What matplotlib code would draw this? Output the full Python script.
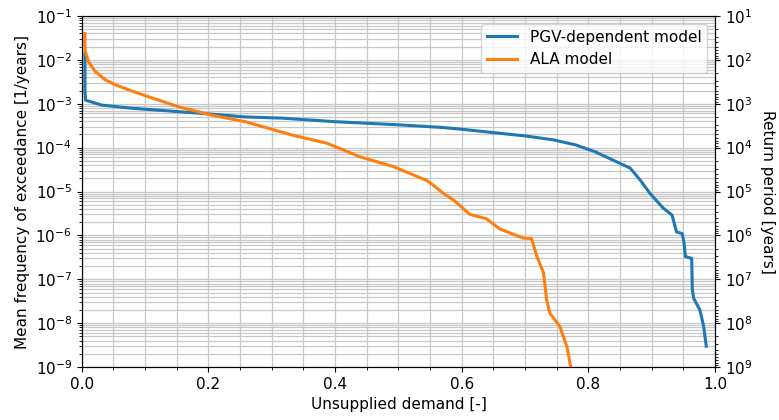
import numpy as np
import matplotlib
matplotlib.use("Agg")
import matplotlib.pyplot as plt
from matplotlib.ticker import LogLocator, MultipleLocator, NullFormatter


# PGV-dependent model
pgv_demand = [0.005, 0.005, 0.006, 0.032, 0.079, 0.153, 0.205, 0.258, 0.316,
              0.40, 0.502, 0.566, 0.597, 0.65, 0.70, 0.745, 0.78, 0.81, 0.835,
              0.866, 0.882, 0.897, 0.918, 0.932, 0.939, 0.948, 0.951, 0.953,
              0.963, 0.964, 0.966, 0.976, 0.982, 0.986]
pgv_freq = [1.4e-2, 2.0e-3, 1.2e-3, 9.3e-4, 7.9e-4, 6.6e-4, 5.8e-4, 5.0e-4,
            4.7e-4, 3.9e-4, 3.3e-4, 2.9e-4, 2.65e-4, 2.2e-4, 1.85e-4, 1.5e-4,
            1.15e-4, 8.1e-5, 5.5e-5, 3.4e-5, 1.8e-5, 9.1e-6, 4.2e-6, 2.9e-6,
            1.2e-6, 1.1e-6, 6.6e-7, 3.3e-7, 3.0e-7, 6e-8, 3.7e-8, 2.0e-8,
            8.3e-9, 3.0e-9]

# ALA model
ala_demand = [0.005, 0.005, 0.0105, 0.021, 0.037, 0.053, 0.079, 0.105, 0.153,
              0.205, 0.258, 0.305, 0.334, 0.387, 0.439, 0.492, 0.544, 0.555,
              0.571, 0.587, 0.613, 0.639, 0.66, 0.697, 0.71, 0.719, 0.729,
              0.734, 0.739, 0.755, 0.766, 0.772]
ala_freq = [4.0e-2, 1.7e-2, 9.0e-3, 5.5e-3, 3.5e-3, 2.7e-3, 1.95e-3, 1.45e-3,
            8.5e-4, 5.5e-4, 3.9e-4, 2.5e-4, 1.9e-4, 1.26e-4, 6.2e-5, 3.7e-5,
            1.8e-5, 1.4e-5, 9.0e-6, 6.4e-6, 3.0e-6, 2.4e-6, 1.4e-6, 8.7e-7,
            8.5e-7, 3.2e-7, 1.4e-7, 3.4e-8, 1.7e-8, 8.3e-9, 2.9e-9, 1.0e-9]


fig, ax = plt.subplots(figsize=(7.79, 4.2), dpi=100)
fig.subplots_adjust(left=0.105, right=0.918, top=0.962, bottom=0.126)

ax.plot(pgv_demand, pgv_freq, color="tab:blue", linewidth=2.2, label="PGV-dependent model")
ax.plot(ala_demand, ala_freq, color="tab:orange", linewidth=2.2, label="ALA model")

ax.set_yscale("log")
ax.set_xlim(0, 1.0)
ax.set_ylim(1e-9, 1e-1)
ax.xaxis.set_major_locator(MultipleLocator(0.2))
ax.xaxis.set_minor_locator(MultipleLocator(0.05))
ax.yaxis.set_major_locator(LogLocator(base=10, numticks=20))
ax.yaxis.set_minor_locator(LogLocator(base=10, subs=np.arange(2, 10), numticks=20))
ax.yaxis.set_minor_formatter(NullFormatter())

ax.grid(True, which="both", color="#c8c8c8", linewidth=0.9)
ax.set_axisbelow(True)

ax.set_xlabel("Unsupplied demand [-]", fontsize=11)
ax.set_ylabel("Mean frequency of exceedance [1/years]", fontsize=11)
ax.tick_params(labelsize=11)

ax2 = ax.twinx()
ax2.set_yscale("log")
ax2.set_ylim(1e9, 1e1)
ax2.yaxis.set_major_locator(LogLocator(base=10, numticks=20))
ax2.yaxis.set_minor_locator(LogLocator(base=10, subs=np.arange(2, 10), numticks=20))
ax2.yaxis.set_minor_formatter(NullFormatter())
ax2.set_ylabel("Return period [years]", fontsize=11, rotation=270, labelpad=16)
ax2.tick_params(labelsize=11)

ax.legend(loc="upper right", fontsize=11)

fig.savefig("out.png", dpi=100)
